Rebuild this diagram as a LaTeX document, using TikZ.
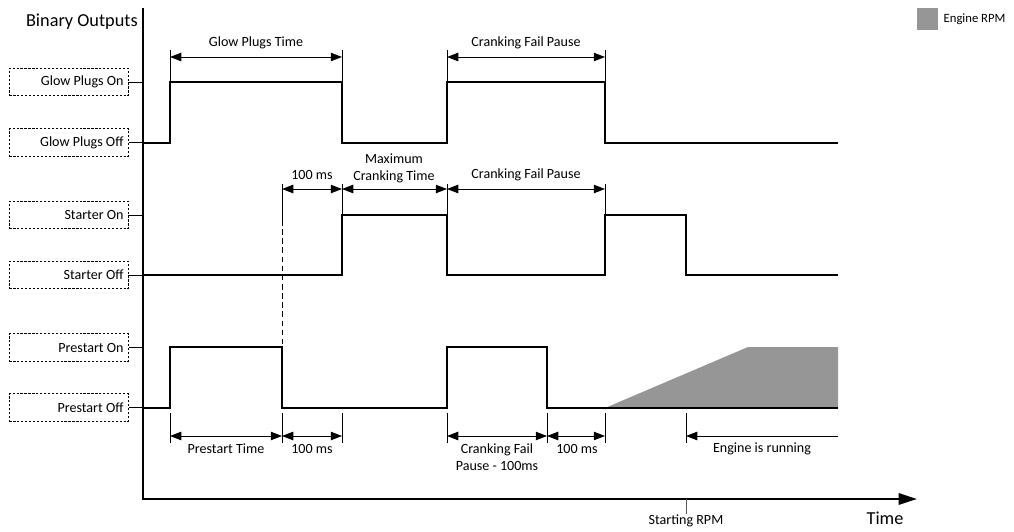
\documentclass[tikz,border=0pt]{standalone}
\usepackage{fontspec}
\setmainfont{Carlito}
\usetikzlibrary{arrows.meta}
\usepackage{xcolor}
\definecolor{rpmgrey}{HTML}{969696}
\definecolor{tickgrey}{HTML}{595959}
\tikzset{
  signal/.style={line width=1.6pt,line join=miter},
  axisline/.style={line width=1.6pt},
  guide/.style={line width=0.7pt},
  spanarrow/.style={line width=0.7pt,{Triangle[length=8pt,width=6pt]}-{Triangle[length=8pt,width=6pt]}},
  levelbox/.style={draw,line width=0.8pt,dash pattern=on 1.6pt off 1.2pt,text width=2.73cm,align=flush right,
    inner sep=3.5pt,minimum height=0.68cm,anchor=east,font=\fontsize{10}{12}\selectfont},
  lbl/.style={font=\fontsize{10}{12}\selectfont,inner sep=1pt,align=center}
}

\begin{document}
\begin{tikzpicture}[x=0.025cm,y=-0.025cm]
  \useasboundingbox (0,0) rectangle (1014,532);
  % Engine RPM ramp
  \fill[rpmgrey] (605,408) -- (748,347) -- (838,347) -- (838,408) -- cycle;
  % Legend
  \fill[rpmgrey] (917,8) rectangle (938,30);
  \node[lbl,anchor=west,font=\fontsize{9}{11}\selectfont] (legend) at (942,19) {Engine RPM};
  % Axes
  \coordinate (yaxis) at (143,0);
  \draw[axisline,-{Triangle[length=13pt,width=8pt]}] (143,8) -- (143,499) -- (917,499);
  \node[anchor=east,font=\fontsize{13}{15}\selectfont,inner sep=0pt] (outputs) at (138,22) {Binary Outputs};
  \node[font=\fontsize{13}{15}\selectfont,inner sep=0pt] (time) at (885,518) {Time};
  % Output levels
  \node[levelbox] (gpon) at (129,82) {Glow Plugs On};
  \node[levelbox] (gpoff) at (129,142.5) {Glow Plugs Off};
  \node[levelbox] (ston) at (129,215) {Starter On};
  \node[levelbox] (stoff) at (129,275) {Starter Off};
  \node[levelbox] (pson) at (129,347.5) {Prestart On};
  \node[levelbox] (psoff) at (129,407.5) {Prestart Off};
  \foreach \lv in {gpon,gpoff,ston,stoff,pson,psoff}
    \draw[guide] (\lv.east) -- (\lv.east -| yaxis);
  % Signals
  \draw[signal] (143,143) -- (170,143) -- (170,82) -- (342,82) -- (342,143) -- (447,143)
    -- (447,82) -- (605,82) -- (605,143) -- (838,143);
  \draw[signal] (143,275) -- (342,275) -- (342,215) -- (447,215) -- (447,275) -- (605,275)
    -- (605,215) -- (686,215) -- (686,275) -- (838,275);
  \draw[signal] (143,408) -- (170,408) -- (170,347) -- (282,347) -- (282,408) -- (447,408)
    -- (447,347) -- (547,347) -- (547,408) -- (838,408);
  % Glow plug timing
  \foreach \x in {170,342,447,605}
    \draw[guide] (\x,50) -- (\x,82);
  \draw[spanarrow] (170,57) -- (342,57);
  \node[lbl] (gptime) at (256,43) {Glow Plugs Time};
  \draw[spanarrow] (447,57) -- (605,57);
  \node[lbl] (pause1) at (526,43) {Cranking Fail Pause};
  % Starter timing
  \foreach \x in {342,447,605}
    \draw[guide] (\x,184) -- (\x,215);
  \draw[guide] (282,184) -- (282,220);
  \draw[guide,dash pattern=on 4pt off 2.5pt] (282,220) -- (282,347);
  \draw[spanarrow] (282,189) -- (342,189);
  \node[lbl] (delay1) at (312,175) {100 ms};
  \draw[spanarrow] (342,189) -- (447,189);
  \node[lbl] (maxcrank) at (394,168) {Maximum\\Cranking Time};
  \draw[spanarrow] (447,189) -- (605,189);
  \node[lbl] (pause2) at (526,175) {Cranking Fail Pause};
  % Prestart timing
  \foreach \x in {170,282,342,447,547,605,686}
    \draw[guide] (\x,413) -- (\x,443);
  \draw[spanarrow] (170,436) -- (282,436);
  \node[lbl] (pstime) at (226,449) {Prestart Time};
  \draw[spanarrow] (282,436) -- (342,436);
  \node[lbl] (delay2) at (312,449) {100 ms};
  \draw[spanarrow] (447,436) -- (547,436);
  \node[lbl] (pause3) at (497,457) {Cranking Fail\\Pause - 100ms};
  \draw[spanarrow] (547,436) -- (605,436);
  \node[lbl] (delay3) at (577,449) {100 ms};
  \draw[guide,-{Triangle[length=8pt,width=6pt]}] (838,436) -- (686,436);
  \node[lbl] (running) at (762,449) {Engine is running};
  % Starting RPM
  \draw[guide,tickgrey] (686,499) -- (686,514);
  \node[lbl] (startrpm) at (686,521) {Starting RPM};
\end{tikzpicture}
\end{document}
